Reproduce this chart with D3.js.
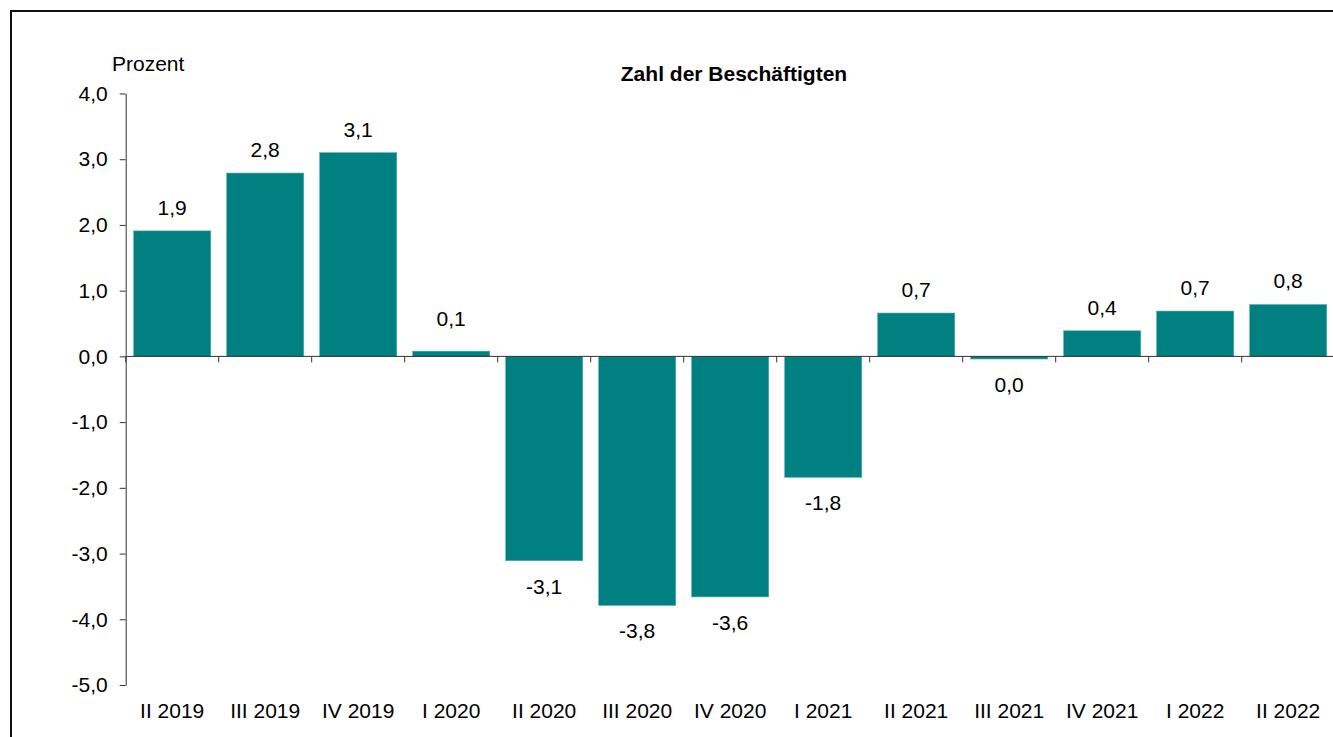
<!DOCTYPE html>
<html>
<head>
<meta charset="utf-8">
<script src="https://cdn.jsdelivr.net/npm/d3@7"></script>
<style>
  html, body { margin: 0; padding: 0; background: #fff; }
  svg { display: block; }
  text { font-family: "Liberation Sans", Arial, sans-serif; fill: #000; }
</style>
</head>
<body>
<script>
const categories = ["II 2019","III 2019","IV 2019","I 2020","II 2020","III 2020","IV 2020","I 2021","II 2021","III 2021","IV 2021","I 2022","II 2022"];
const values = [1.91, 2.79, 3.10, 0.08, -3.11, -3.79, -3.66, -1.84, 0.66, -0.04, 0.39, 0.69, 0.79];
const valueLabels = ["1,9","2,8","3,1","0,1","-3,1","-3,8","-3,6","-1,8","0,7","0,0","0,4","0,7","0,8"];
const yTicks = [-5, -4, -3, -2, -1, 0, 1, 2, 3, 4];
const title = "Zahl der Beschäftigten";
const yUnit = "Prozent";

const W = 1333, H = 737;
const svg = d3.select("body").append("svg").attr("width", W).attr("height", H);

// frame
svg.append("rect").attr("x", 11).attr("y", 11).attr("width", 1400).attr("height", 900)
  .attr("fill", "none").attr("stroke", "#111").attr("stroke-width", 2);

const x = d3.scaleBand().domain(categories).range([125.7, 1334.7]).paddingInner(0.17).paddingOuter(0.085);
const y = d3.scaleLinear().domain([-5, 4]).range([685, 93.5]);
const fmt = d => d3.format(".1f")(d).replace(".", ",").replace("−", "-");
const axisColor = "#333";
const fs = 21;

// bars
svg.append("g").selectAll("rect").data(values).join("rect")
  .attr("x", (d, i) => x(categories[i]))
  .attr("width", x.bandwidth())
  .attr("y", d => y(Math.max(0, d)))
  .attr("height", d => Math.abs(y(d) - y(0)))
  .attr("fill", "#008080")
  .attr("stroke", "#5fb3b3").attr("stroke-width", 0.6);

// y axis
const yAxis = svg.append("g").attr("transform", "translate(125.7,0)")
  .call(d3.axisLeft(y).tickValues(yTicks).tickFormat(fmt).tickSize(6).tickSizeOuter(0).tickPadding(12));
yAxis.select(".domain").attr("stroke", axisColor);
yAxis.selectAll(".tick line").attr("stroke", axisColor);
yAxis.selectAll(".tick text").style("font-size", fs + "px").style("font-family", "Liberation Sans, Arial, sans-serif").attr("fill", "#000");

// x axis line at zero
const gx = svg.append("g");
gx.append("line").attr("x1", x.range()[0]).attr("x2", x.range()[1])
  .attr("y1", y(0)).attr("y2", y(0)).attr("stroke", axisColor);
const off = (x.step() - x.bandwidth()) / 2;
const bounds = categories.map(c => x(c) - off).concat([x(categories[categories.length - 1]) - off + x.step()]);
gx.selectAll("line.t").data(bounds).join("line").attr("class", "t")
  .attr("x1", d => d).attr("x2", d => d)
  .attr("y1", y(0)).attr("y2", y(0) + 6).attr("stroke", axisColor);

// x labels at bottom
svg.append("g").selectAll("text").data(categories).join("text")
  .attr("x", d => x(d) + x.bandwidth() / 2)
  .attr("y", 718)
  .attr("text-anchor", "middle")
  .style("font-size", fs + "px")
  .text(d => d);

// value labels
svg.append("g").selectAll("text").data(values).join("text")
  .attr("x", (d, i) => x(categories[i]) + x.bandwidth() / 2)
  .attr("y", d => d >= 0 ? Math.min(y(d) - 16, y(0) - 30) : y(d) + 33)
  .attr("text-anchor", "middle")
  .style("font-size", fs + "px")
  .text((d, i) => valueLabels[i]);

// unit label
svg.append("text").attr("x", 112).attr("y", 71).style("font-size", fs + "px").text(yUnit);

// title
svg.append("text").attr("x", 734).attr("y", 81).attr("text-anchor", "middle")
  .style("font-size", fs + "px").style("font-weight", "bold").text(title);
</script>
</body>
</html>
